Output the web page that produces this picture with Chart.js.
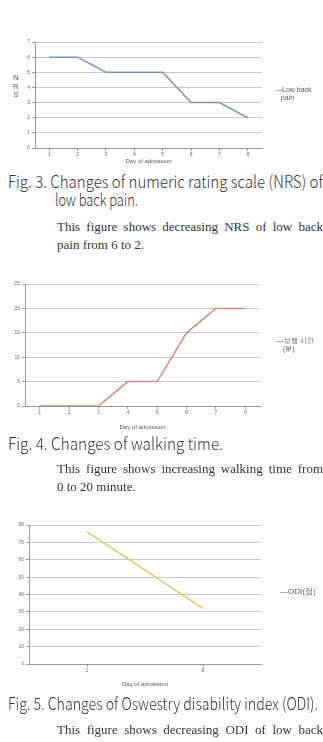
<!DOCTYPE html>
<html>
<head>
<meta charset="utf-8">
<script src="https://cdn.jsdelivr.net/npm/chart.js@4.4.1/dist/chart.umd.min.js"></script>
<style>
  html, body { margin: 0; padding: 0; background: #fff; }
  body { width: 323px; height: 742px; position: relative; overflow: hidden; }
  .box { position: absolute; }
  .legend { position: absolute; font-family: "Liberation Sans", Arial, sans-serif; font-size: 7px; color: #555; line-height: 8px; }
  .cap { position: absolute; left: 8px; white-space: nowrap; font-family: "Noto Sans CJK KR", "Noto Sans", sans-serif; font-weight: 300; font-size: 17px; line-height: 18px; color: #333; transform-origin: 0 0; }
  .desc { position: absolute; left: 57px; width: 266px; white-space: nowrap; font-family: "Liberation Serif", "DejaVu Serif", serif; font-size: 13px; line-height: 16px; color: #333; }
  .just { text-align: justify; text-align-last: justify; white-space: normal; }
  .ylab { position: absolute; left: 12px; top: 74px; font-family: "Liberation Sans", Arial, sans-serif; font-size: 8px; line-height: 8.5px; color: #555; text-align: center; width: 8px; }
</style>
</head>
<body>

<div class="box" style="left:0;top:30px;width:323px;height:135px"><canvas id="nrsChart"></canvas></div>
<div class="ylab">N<br>R<br>S</div>
<div class="legend" style="left:275px;top:86px">—Low back<br>&nbsp;&nbsp;&nbsp;pain</div>
<div class="cap" data-w="315" style="top:172px">Fig. 3. Changes of numeric rating scale (NRS) of</div>
<div class="cap" data-w="83" style="top:190px;left:55px">low back pain.</div>
<div class="desc just" style="top:219px">This figure shows decreasing NRS of low back</div>
<div class="desc" style="top:237px">pain from 6 to 2.</div>

<div class="box" style="left:0;top:270px;width:323px;height:161px"><canvas id="walkChart"></canvas></div>
<div class="legend" style="left:277px;top:337px">—보행 시간<br>&nbsp;&nbsp;&nbsp;(분)</div>
<div class="cap" data-w="215" style="top:434px">Fig. 4. Changes of walking time.</div>
<div class="desc just" style="top:461px">This figure shows increasing walking time from</div>
<div class="desc" style="top:479px">0 to 20 minute.</div>

<div class="box" style="left:0;top:510px;width:323px;height:178px"><canvas id="odiChart"></canvas></div>
<div class="legend" style="left:280px;top:588px;font-size:8px">—ODI(점)</div>
<div class="cap" data-w="310" style="top:694px">Fig. 5. Changes of Oswestry disability index (ODI).</div>
<div class="desc just" style="top:722px">This figure shows decreasing ODI of low back</div>
<div class="desc" style="top:740px">pain from 75 to 31.</div>

<script>
// data
const nrsDays = ['1', '2', '3', '4', '5', '6', '7', '8'];
const nrsValues = [6, 6, 5, 5, 5, 3, 3, 2];

const walkDays = ['1', '2', '3', '4', '5', '6', '7', '8'];
const walkValues = [0, 0, 0, 5, 5, 15, 20, 20];

const odiDays = ['1', '8'];
const odiValues = [76, 32];

/* shared options for the three small line charts */
function makeChart(id, labels, values, color, yMax, yStep, box) {
    const ctx = document.getElementById(id).getContext('2d');
    return new Chart(ctx, {
        type: 'line',
        data: {
            labels: labels,
            datasets: [{
                data: values,
                borderColor: color,
                borderWidth: 1.5,
                pointRadius: 0,
                tension: 0,
                fill: false
            }]
        },
        options: {
            responsive: true,
            maintainAspectRatio: false,
            animation: false,
            events: [],
            layout: {
                padding: { top: box.top, right: box.right, left: 0, bottom: 0 }
            },
            plugins: {
                legend: { display: false },
                tooltip: { enabled: false }
            },
            scales: {
                x: {
                    offset: true,
                    afterFit: function (s) { s.height = box.xh; },
                    grid: { drawOnChartArea: false, drawTicks: true, tickLength: 3, color: '#999' },
                    border: { display: true, color: '#999' },
                    ticks: { font: { size: 5, family: 'Liberation Sans' }, color: '#666', padding: 1 },
                    title: {
                        display: true,
                        text: 'Day of admission',
                        font: { size: 6, family: 'Liberation Sans' },
                        color: '#555',
                        padding: { top: 1, bottom: 0 }
                    }
                },
                y: {
                    min: 0,
                    max: yMax,
                    afterFit: function (s) { s.width = box.yw; },
                    grid: { color: '#c8c8c8', lineWidth: 1, tickLength: 3, tickColor: '#999' },
                    border: { display: true, color: '#999' },
                    ticks: { stepSize: yStep, font: { size: 5, family: 'Liberation Sans' }, color: '#666', padding: 2 }
                }
            }
        }
    });
}

makeChart('nrsChart', nrsDays, nrsValues, '#7a98ad', 7, 1, { top: 12, right: 61, yw: 35, xh: 17 });
makeChart('walkChart', walkDays, walkValues, '#d08a8a', 25, 5, { top: 14, right: 63, yw: 25, xh: 25 });
makeChart('odiChart', odiDays, odiValues, '#e3c566', 80, 10, { top: 15, right: 62, yw: 29, xh: 24 });

// squeeze caption lines to the printed width
document.querySelectorAll('.cap').forEach(function (el) {
    const w = el.getBoundingClientRect().width;
    el.style.transform = 'scaleX(' + (Number(el.dataset.w) / w) + ')';
});
</script>
</body>
</html>
